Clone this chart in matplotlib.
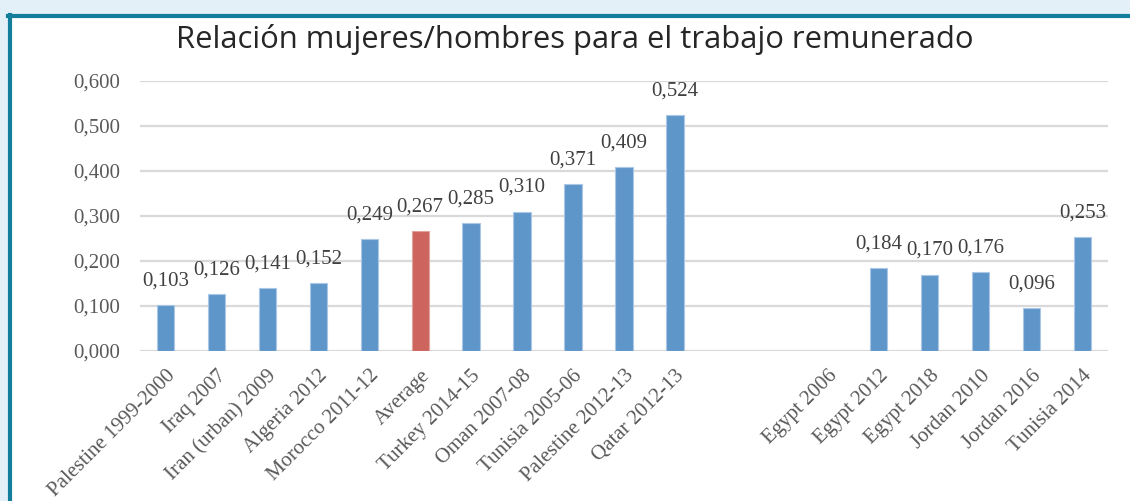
"""Relación mujeres/hombres para el trabajo remunerado - bar chart."""

import matplotlib.pyplot as plt
from matplotlib.patches import Rectangle

categories = [
    "Palestine 1999-2000", "Iraq 2007", "Iran (urban) 2009", "Algeria 2012",
    "Morocco 2011-12", "Average", "Turkey 2014-15", "Oman 2007-08",
    "Tunisia 2005-06", "Palestine 2012-13", "Qatar 2012-13", "", "",
    "Egypt 2006", "Egypt 2012", "Egypt 2018", "Jordan 2010", "Jordan 2016",
    "Tunisia 2014",
]
values = [
    0.103, 0.126, 0.141, 0.152, 0.249, 0.267, 0.285, 0.310, 0.371, 0.409,
    0.524, None, None, None, 0.184, 0.170, 0.176, 0.096, 0.253,
]
highlight = "Average"
yticks = [0.0, 0.1, 0.2, 0.3, 0.4, 0.5, 0.6]

BLUE = "#5f96c9"
RED = "#cd655e"
fmt = lambda v: f"{v:.3f}".replace(".", ",")

fig = plt.figure(figsize=(11.3, 5.01), dpi=100)
fig.patch.set_facecolor("#e3f0f8")

# white card with teal frame (left + top)
fig.add_artist(Rectangle((9 / 1130, 0), 1, 1 - 15 / 501, transform=fig.transFigure,
                         facecolor="white", edgecolor="none", zorder=0))
fig.add_artist(plt.Line2D([9.5 / 1130, 9.5 / 1130], [0, 1 - 15 / 501], transform=fig.transFigure,
                          color="#137e9b", linewidth=3, zorder=1))
fig.add_artist(plt.Line2D([8 / 1130, 1], [1 - 15.5 / 501, 1 - 15.5 / 501], transform=fig.transFigure,
                          color="#137e9b", linewidth=3, zorder=1))

ax = fig.add_axes([140 / 1130, 1 - 351 / 501, 968 / 1130, 270 / 501])
ax.set_facecolor("none")

x = list(range(len(categories)))
for i, (cat, v) in enumerate(zip(categories, values)):
    if v is None:
        continue
    ax.bar(i, v, width=0.34, color=RED if cat == highlight else BLUE,
           edgecolor="#a9c7e6" if cat != highlight else "#e0a29d", linewidth=0.8, zorder=3)
    ax.annotate(fmt(v), (i, v), xytext=(0, 24), textcoords="offset pixels",
                ha="center", va="center", fontsize=15, family="Liberation Serif",
                color="#404040", annotation_clip=False)

ax.set_xlim(-0.5, len(categories) - 0.5)
ax.set_ylim(0, 0.6)
ax.set_yticks(yticks)
ax.set_yticklabels([fmt(t) for t in yticks], fontsize=15, family="Liberation Serif", color="#595959")
ax.set_xticks(x)
ax.set_xticklabels(categories, rotation=45, ha="right", rotation_mode="anchor",
                   fontsize=15, family="Liberation Serif", color="#595959")
ax.tick_params(axis="both", length=0)
ax.tick_params(axis="y", pad=14.5)
ax.tick_params(axis="x", pad=11)
ax.grid(axis="y", color="#d9d9d9", linewidth=1.6, zorder=0)
ax.set_axisbelow(True)
for s in ax.spines.values():
    s.set_visible(False)

fig.text(575 / 1130, 1 - 39 / 501, "Relación mujeres/hombres para el trabajo remunerado",
         ha="center", va="center", fontsize=22.3, family="Open Sans", color="#262626")

plt.savefig("out.png", dpi=100)
plt.close()
